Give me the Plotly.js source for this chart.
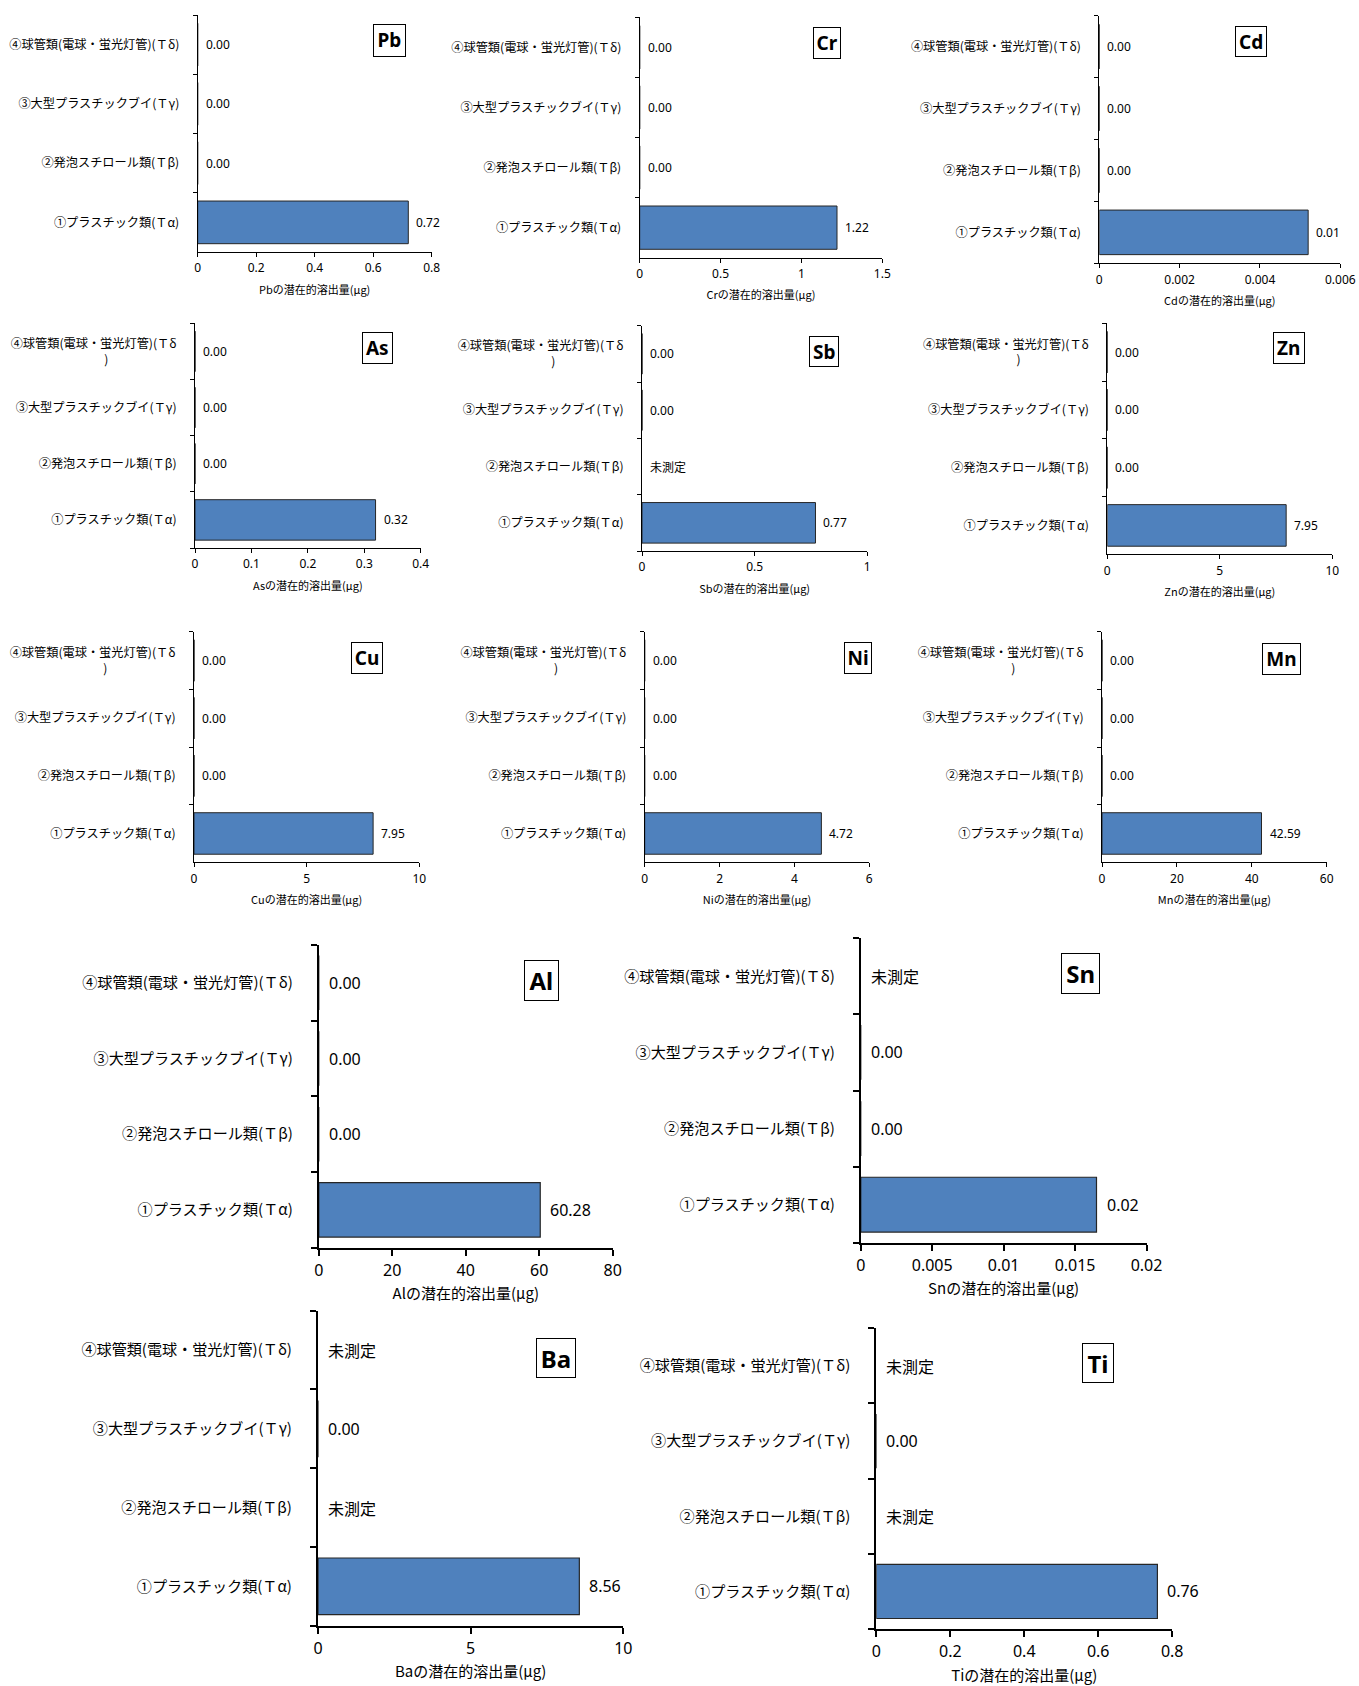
<!DOCTYPE html>
<html>
<head>
<meta charset="utf-8">
<script src="https://cdn.plot.ly/plotly-3.0.1.min.js"></script>
<style>html,body{margin:0;padding:0;background:#fff}</style>
</head>
<body>
<div id="chart" style="width:1359px;height:1686px"></div>
<script>
// Sample categories, listed bottom to top on every panel
const categories = [
  '①プラスチック類(Ｔα)',
  '②発泡スチロール類(Ｔβ)',
  '③大型プラスチックブイ(Ｔγ)',
  '④球管類(電球・蛍光灯管)(Ｔδ)'
];

// Potential leaching amount (μg) per category, order ① ② ③ ④; null = 未測定
const valuesPb = [0.72, 0, 0, 0];
const valuesCr = [1.22, 0, 0, 0];
const valuesCd = [0.0052, 0, 0, 0];
const valuesAs = [0.32, 0, 0, 0];
const valuesSb = [0.77, null, 0, 0];
const valuesZn = [7.95, 0, 0, 0];
const valuesCu = [7.95, 0, 0, 0];
const valuesNi = [4.72, 0, 0, 0];
const valuesMn = [42.59, 0, 0, 0];
const valuesAl = [60.28, 0, 0, 0];
const valuesSn = [0.0165, 0, 0, null];
const valuesBa = [8.56, null, 0, null];
const valuesTi = [0.76, null, 0, null];

// x-axis tick values per element
const ticksPb = [0, 0.2, 0.4, 0.6, 0.8];
const ticksCr = [0, 0.5, 1, 1.5];
const ticksCd = [0, 0.002, 0.004, 0.006];
const ticksAs = [0, 0.1, 0.2, 0.3, 0.4];
const ticksSb = [0, 0.5, 1];
const ticksZn = [0, 5, 10];
const ticksCu = [0, 5, 10];
const ticksNi = [0, 2, 4, 6];
const ticksMn = [0, 20, 40, 60];
const ticksAl = [0, 20, 40, 60, 80];
const ticksSn = [0, 0.005, 0.01, 0.015, 0.02];
const ticksBa = [0, 5, 10];
const ticksTi = [0, 0.2, 0.4, 0.6, 0.8];

const notMeasured = '未測定';
const titleSuffix = 'の潜在的溶出量(μg)';

const series = [
  ['Pb', valuesPb, ticksPb], ['Cr', valuesCr, ticksCr], ['Cd', valuesCd, ticksCd],
  ['As', valuesAs, ticksAs], ['Sb', valuesSb, ticksSb], ['Zn', valuesZn, ticksZn],
  ['Cu', valuesCu, ticksCu], ['Ni', valuesNi, ticksNi], ['Mn', valuesMn, ticksMn],
  ['Al', valuesAl, ticksAl], ['Sn', valuesSn, ticksSn], ['Ba', valuesBa, ticksBa],
  ['Ti', valuesTi, ticksTi]
];

// Page geometry (px): plot area and element-name box of each panel
const W = 1359, H = 1686;
const geometry = {
  Pb: {l: 197.7, r: 431.7, t: 15, b: 252, box: [373, 24, 405.7, 56.7], big: false, wrap: false},
  Cr: {l: 639.7, r: 882.3, t: 17.3, b: 257.7, box: [812.3, 27.3, 840.7, 59.3], big: false, wrap: false},
  Cd: {l: 1099.3, r: 1340.3, t: 15.7, b: 263.3, box: [1234.3, 26, 1266.7, 57.3], big: false, wrap: false},
  As: {l: 195, r: 420.7, t: 323.3, b: 548, box: [361.7, 331.7, 392.3, 363.3], big: false, wrap: true},
  Sb: {l: 642, r: 867.3, t: 325.7, b: 551, box: [808.7, 335.7, 839, 366.7], big: false, wrap: true},
  Zn: {l: 1107.3, r: 1332.3, t: 323.3, b: 554.3, box: [1272.7, 332.3, 1304.3, 364], big: false, wrap: true},
  Cu: {l: 194, r: 419.3, t: 631.7, b: 862.3, box: [351, 642.7, 383.3, 674.3], big: false, wrap: true},
  Ni: {l: 644.7, r: 869.3, t: 631.7, b: 862.3, box: [843.7, 642.7, 872, 674.3], big: false, wrap: true},
  Mn: {l: 1102, r: 1326.7, t: 631.7, b: 862.3, box: [1262, 643, 1301, 675], big: false, wrap: true},
  Al: {l: 318.8, r: 612.7, t: 945, b: 1247.7, box: [524, 960, 558.8, 1000.7], big: true, wrap: false},
  Sn: {l: 860.8, r: 1146.5, t: 938.3, b: 1242.7, box: [1060.8, 952.7, 1100, 993.3], big: true, wrap: false},
  Ba: {l: 318, r: 623.3, t: 1310.7, b: 1625.7, box: [535.5, 1338.3, 575.5, 1378.3], big: true, wrap: false},
  Ti: {l: 876.3, r: 1172.2, t: 1328.3, b: 1629, box: [1082.4, 1342.7, 1114.3, 1382.7], big: true, wrap: false}
};

const styleSmall = {cat: 12.2, num: 12, tick: 12, title: 11, elem: 19, lw: 1, tl: 4, catOff: 15, xshift: 6, standoff: 10, xlabOff: 1};
const styleBig = {cat: 15.1, num: 16, tick: 16, title: 15, elem: 24, lw: 2, tl: 6, catOff: 21, xshift: 8, standoff: 9, xlabOff: 1};

const jpFont = 'Noto Sans CJK JP, Noto Sans, sans-serif';
const numFont = 'Noto Sans, Noto Sans CJK JP, sans-serif';
const barBlue = '#4F81BD';

// Wrapped form of the ④ label, with the closing bracket centred under the first line
const wrappedLast = '④球管類(電球・蛍光灯管)(Ｔδ<br>)' + '\u00a0'.repeat(25);

const traces = [];
const layout = {
  width: W, height: H,
  margin: {l: 0, r: 0, t: 0, b: 0},
  paper_bgcolor: '#ffffff', plot_bgcolor: '#ffffff',
  showlegend: false,
  bargap: 0.28,
  hovermode: false,
  annotations: [],
  font: {family: jpFont, color: '#000'}
};

series.forEach(([el, vals, ticks], i) => {
  const g = geometry[el];
  const s = g.big ? styleBig : styleSmall;
  const n = i + 1;
  const xa = n === 1 ? 'x' : 'x' + n;
  const ya = n === 1 ? 'y' : 'y' + n;
  const xKey = n === 1 ? 'xaxis' : 'xaxis' + n;
  const yKey = n === 1 ? 'yaxis' : 'yaxis' + n;

  traces.push({
    type: 'bar', orientation: 'h',
    x: vals, y: categories,
    xaxis: xa, yaxis: ya,
    marker: {color: barBlue, line: {color: '#262626', width: g.big ? 1.2 : 1}},
    hoverinfo: 'skip'
  });

  const ticktext = categories.slice();
  if (g.wrap) ticktext[3] = wrappedLast;

  layout[xKey] = {
    domain: [g.l / W, g.r / W],
    anchor: ya,
    range: [0, ticks[ticks.length - 1]],
    tickmode: 'array', tickvals: ticks, ticktext: ticks.map(v => String(v)),
    showline: true, linecolor: '#000', linewidth: s.lw,
    ticks: 'outside', ticklen: s.tl, tickwidth: s.lw, tickcolor: '#000',
    ticklabelstandoff: s.xlabOff,
    showgrid: false, zeroline: false, fixedrange: true,
    tickfont: {family: numFont, size: s.tick, color: '#000'},
    title: {text: el + titleSuffix, font: {family: jpFont, size: s.title, color: '#000'}, standoff: s.standoff}
  };
  layout[yKey] = {
    domain: [1 - g.b / H, 1 - g.t / H],
    anchor: xa,
    type: 'category',
    categoryorder: 'array', categoryarray: categories,
    range: [-0.5, 3.5],
    tickmode: 'array', tickvals: categories, ticktext: ticktext,
    tickson: 'boundaries',
    showline: true, linecolor: '#000', linewidth: s.lw,
    ticks: 'outside', ticklen: s.tl, tickwidth: s.lw, tickcolor: '#000',
    ticklabelstandoff: s.catOff,
    showgrid: false, zeroline: false, fixedrange: true,
    tickfont: {family: jpFont, size: s.cat, color: '#000'}
  };

  // value labels next to each bar end (or at the axis for empty categories)
  vals.forEach((v, k) => {
    const measured = v !== null;
    layout.annotations.push({
      xref: xa, yref: ya,
      x: measured ? v : 0, y: categories[k],
      text: measured ? v.toFixed(2) : notMeasured,
      xanchor: 'left', yanchor: 'middle', xshift: s.xshift,
      showarrow: false,
      font: {family: measured ? numFont : jpFont, size: s.num, color: '#000'}
    });
  });

  // boxed element symbol
  const [bx0, by0, bx1, by1] = g.box;
  layout.annotations.push({
    xref: 'paper', yref: 'paper',
    x: (bx0 + bx1) / 2 / W, y: 1 - (by0 + by1) / 2 / H,
    xanchor: 'center', yanchor: 'middle',
    width: bx1 - bx0 - 2, height: by1 - by0 - 2,
    align: 'center', valign: 'middle',
    text: '<b>' + el + '</b>',
    showarrow: false,
    bordercolor: '#000', borderwidth: 1, borderpad: 0, bgcolor: '#fff',
    font: {family: numFont, size: s.elem, color: '#000'}
  });
});

Plotly.newPlot('chart', traces, layout, {staticPlot: true, displayModeBar: false});
</script>
</body>
</html>
